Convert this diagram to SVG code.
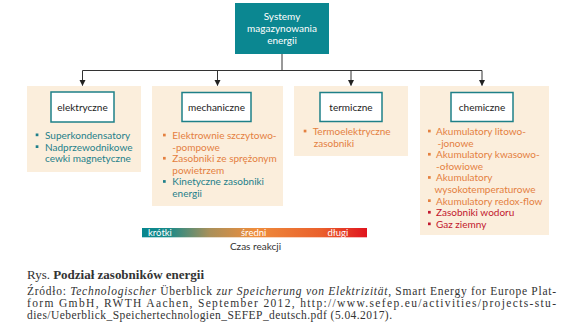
<svg xmlns="http://www.w3.org/2000/svg" width="582" height="336" viewBox="0 0 582 336">
<style>
.d{font-family:Lato,"Noto Sans","Liberation Sans",sans-serif;font-size:10px}
.lbl{fill:#222;text-anchor:middle}
.panel{fill:#FBEEDC}
.lbox{fill:#fff;stroke:#1E8088;stroke-width:1.5}
.t{fill:#1E7F8A}
.o{fill:#E4803F}
.r{fill:#C2172E}
.conn{stroke:#333;stroke-width:1;fill:none}
.cap{font-family:"Liberation Serif","DejaVu Serif",serif;font-size:11.5px;fill:#333}
.w{fill:#fff;font-size:9.5px}
</style>
<defs>
<marker id="ah" markerWidth="6" markerHeight="7" refX="5.5" refY="3" orient="auto" markerUnits="userSpaceOnUse">
<path d="M0,0 L6,3 L0,6 Z" fill="#222"/>
</marker>
<linearGradient id="grad" x1="0" y1="0" x2="1" y2="0">
<stop offset="0" stop-color="#06868E"/>
<stop offset="0.12" stop-color="#1A8A89"/>
<stop offset="0.3" stop-color="#A9905A"/>
<stop offset="0.5" stop-color="#EE8D3C"/>
<stop offset="0.8" stop-color="#EA5F2C"/>
<stop offset="1" stop-color="#E0141E"/>
</linearGradient>
</defs>

<g id="connectors">
<path class="conn" d="M282,54 V70.5"/>
<path class="conn" d="M82.5,70.5 H482"/>
<path class="conn" d="M82.5,70.5 V85.5" marker-end="url(#ah)"/>
<path class="conn" d="M217.5,70.5 V85.5" marker-end="url(#ah)"/>
<path class="conn" d="M351,70.5 V85.5" marker-end="url(#ah)"/>
<path class="conn" d="M482,70.5 V85.5" marker-end="url(#ah)"/>
</g>

<g id="root">
<rect x="235" y="3" width="94" height="51" fill="#0B8791"/>
<text class="d" x="282" y="20" fill="#fff" text-anchor="middle">Systemy</text>
<text class="d" x="282" y="32" fill="#fff" text-anchor="middle">magazynowania</text>
<text class="d" x="282" y="44" fill="#fff" text-anchor="middle">energii</text>
</g>

<g id="elektryczne">
<rect class="panel" x="27" y="86" width="114" height="86"/>
<rect class="lbox" x="51" y="92" width="63" height="30"/>
<text class="d lbl" x="82.5" y="110.5">elektryczne</text>
<rect class="t" x="35.7" y="133.5" width="2.7" height="2.7"/>
<text class="d t" x="45" y="138.8">Superkondensatory</text>
<rect class="t" x="35.7" y="145.3" width="2.7" height="2.7"/>
<text class="d t" x="45" y="150.6">Nadprzewodnikowe</text>
<text class="d t" x="45" y="162.2">cewki magnetyczne</text>
</g>

<g id="mechaniczne">
<rect class="panel" x="152" y="86" width="131" height="120"/>
<rect class="lbox" x="182" y="92.5" width="69" height="29"/>
<text class="d lbl" x="216.5" y="110.5">mechaniczne</text>
<rect class="o" x="163" y="133.7" width="2.7" height="2.7"/>
<text class="d o" x="172.3" y="139">Elektrownie szczytowo-</text>
<text class="d o" x="172.3" y="150.6">-pompowe</text>
<rect class="o" x="163" y="156.9" width="2.7" height="2.7"/>
<text class="d o" x="172.3" y="162.2">Zasobniki ze sprężonym</text>
<text class="d o" x="172.3" y="173.8">powietrzem</text>
<rect class="t" x="163" y="180.1" width="2.7" height="2.7"/>
<text class="d t" x="172.3" y="185.4">Kinetyczne zasobniki</text>
<text class="d t" x="172.3" y="197">energii</text>
</g>

<g id="termiczne">
<rect class="panel" x="294" y="86" width="114" height="70"/>
<rect class="lbox" x="320" y="92.5" width="62" height="29"/>
<text class="d lbl" x="351" y="110.5">termiczne</text>
<rect class="o" x="303.7" y="129.7" width="2.7" height="2.7"/>
<text class="d o" x="312.7" y="135">Termoelektryczne</text>
<text class="d o" x="313.7" y="146.6">zasobniki</text>
</g>

<g id="chemiczne">
<rect class="panel" x="420" y="86" width="129" height="149"/>
<rect class="lbox" x="451" y="92.5" width="62" height="29"/>
<text class="d lbl" x="482" y="110.5">chemiczne</text>
<rect class="o" x="428" y="129.7" width="2.7" height="2.7"/>
<text class="d o" x="436" y="135">Akumulatory litowo-</text>
<text class="d o" x="437.5" y="146.6">-jonowe</text>
<rect class="o" x="428" y="152.9" width="2.7" height="2.7"/>
<text class="d o" x="436" y="158.2">Akumulatory kwasowo-</text>
<text class="d o" x="436" y="169.8">-ołowiowe</text>
<rect class="o" x="428" y="176.1" width="2.7" height="2.7"/>
<text class="d o" x="436" y="181.4">Akumulatory</text>
<text class="d o" x="434.5" y="193">wysokotemperaturowe</text>
<rect class="o" x="428" y="199.3" width="2.7" height="2.7"/>
<text class="d o" x="436" y="204.6">Akumulatory redox-flow</text>
<rect class="r" x="428" y="210.9" width="2.7" height="2.7"/>
<text class="d r" x="436" y="216.2">Zasobniki wodoru</text>
<rect class="r" x="428" y="222.5" width="2.7" height="2.7"/>
<text class="d r" x="436" y="227.8">Gaz ziemny</text>
</g>

<g id="scale">
<rect x="142" y="228" width="225" height="9.3" fill="url(#grad)"/>
<text class="d w" x="148" y="235.8">krótki</text>
<text class="d w" x="241" y="235.8">średni</text>
<text class="d w" x="327.5" y="235.8">długi</text>
<text class="d" x="255.5" y="250" fill="#333" text-anchor="middle">Czas reakcji</text>
</g>

<g id="caption">
<text class="cap" x="27" y="278.7" textLength="177" lengthAdjust="spacingAndGlyphs">Rys. <tspan font-weight="bold">Podział zasobników energii</tspan></text>
<text class="cap" x="27" y="295.3" textLength="529" lengthAdjust="spacing">Źródło: <tspan font-style="italic">Technologischer</tspan> Überblick <tspan font-style="italic">zur Speicherung von Elektrizität</tspan>, Smart Energy for Europe Plat-</text>
<text class="cap" x="27" y="307" textLength="529" lengthAdjust="spacing">form GmbH, RWTH Aachen, September 2012, http://www.sefep.eu/activities/projects-stu-</text>
<text class="cap" x="27" y="318.5" textLength="365" lengthAdjust="spacing">dies/Ueberblick_Speichertechnologien_SEFEP_deutsch.pdf (5.04.2017).</text>
</g>
</svg>
